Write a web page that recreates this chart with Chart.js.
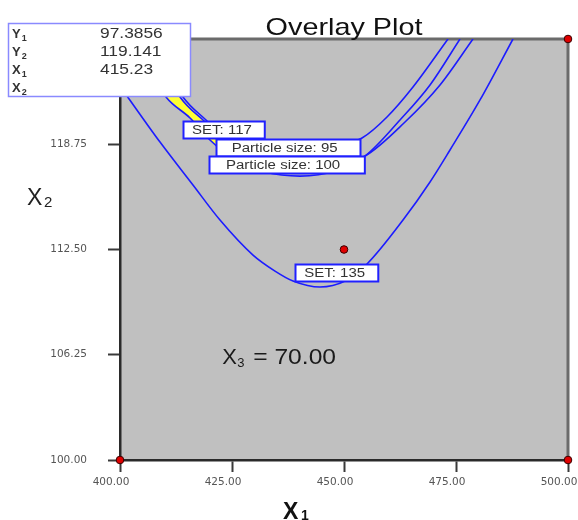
<!DOCTYPE html>
<html>
<head>
<meta charset="utf-8">
<title>Overlay Plot</title>
<script src="https://cdn.jsdelivr.net/npm/chart.js@4/dist/chart.umd.min.js"></script>
<style>
  html, body { margin: 0; padding: 0; background: #fff; }
  #wrap { width: 578px; height: 520px; }
</style>
</head>
<body>
<div id="wrap"><canvas id="c" width="578" height="520"></canvas></div>
<script>
// Axis ticks (X1 = horizontal factor, X2 = vertical factor)
const xTicks = [400, 425, 450, 475, 500];
const yTicks = [100, 106.25, 112.5, 118.75, 125];

// Contour SET = 135
const set135X = [400, 401.56, 408.93, 416.29, 422.32, 429.69, 434.60, 438.62, 444.64, 450.22, 455.13, 463.17, 469.20, 473.66, 480.36, 487.72];
const set135Y = [122.21, 121.62, 118.88, 116.33, 114.25, 112.17, 111.22, 110.63, 110.27, 110.63, 111.64, 114.25, 116.51, 118.41, 121.38, 125];

// Contour SET = 117
const set117X = [408.04, 410.71, 414.06, 419.20, 424.11, 430.80, 439.06, 446.88, 454.69, 463.62, 471.43, 478.79];
const set117Y = [125, 123.16, 121.56, 120.19, 119.00, 117.81, 117.28, 117.46, 118.05, 120.07, 122.27, 125];

// Contour Particle size = 95
const ps95X = [407.37, 410.71, 413.39, 418.53, 423.44, 430.13, 437.95, 445.76, 454.02, 459.60, 465.40, 473.21];
const ps95Y = [125, 122.86, 121.56, 120.19, 119.12, 118.41, 118.23, 118.41, 119.12, 120.37, 122.15, 125];

// Contour Particle size = 100
const ps100X = [403.35, 406.70, 410.27, 415.63, 420.09, 425.67, 432.37, 440.18, 447.99, 454.69, 462.50, 469.20, 475.89];
const ps100Y = [125, 123.16, 121.56, 120.31, 119.00, 117.81, 117.10, 116.86, 117.16, 118.05, 120.19, 122.27, 125];

// Region meeting every criterion (band between the two particle-size contours)
const regionX = [403.35, 406.70, 410.27, 415.63, 420.09, 425.67, 430.13, 423.44, 418.53, 413.39, 410.71, 407.37];
const regionY = [125, 123.16, 121.56, 120.31, 119.00, 117.81, 118.41, 119.12, 120.19, 121.56, 122.86, 125];

// Design points
const designX = [400, 500, 500, 450, 400];
const designY = [100, 100, 125, 112.5, 125];

// Contour labels: text and anchor (left edge, vertical centre) in data units
const labelText = ['SET: 117', 'Particle size: 95', 'Particle size: 100', 'SET: 135'];
const labelX = [414.06, 421.43, 419.87, 439.06];
const labelY = [119.60, 118.56, 117.55, 111.16];

// Flag read-out
const flagNames = [['Y', '1'], ['Y', '2'], ['X', '1'], ['X', '2']];
const flagValues = ['97.3856', '119.141', '415.23', ''];

// Fixed third factor
const x3Value = 70.00;

const toPts = (xs, ys) => xs.map((x, i) => ({ x, y: ys[i] }));

const SANS = '"Liberation Sans", Arial, sans-serif';

function stretchText(ctx, str, x, y, font, sx, align) {
  ctx.save();
  ctx.font = font;
  const w = ctx.measureText(str).width * sx;
  const x0 = align === 'center' ? x - w / 2 : align === 'right' ? x - w : x;
  ctx.translate(x0, y);
  ctx.scale(sx, 1);
  ctx.textAlign = 'left';
  ctx.fillText(str, 0, 0);
  ctx.restore();
  return w;
}

function contour(label, xs, ys) {
  return {
    label,
    data: toPts(xs, ys),
    showLine: true,
    borderColor: '#1c1cff',
    borderWidth: 1.6,
    pointRadius: 0,
    pointHoverRadius: 0,
    cubicInterpolationMode: 'monotone',
    fill: false,
    order: 1
  };
}

const decor = {
  id: 'decor',
  beforeDraw(chart) {
    const { ctx, chartArea: a } = chart;
    ctx.save();
    ctx.fillStyle = '#ffffff';
    ctx.fillRect(0, 0, chart.width, chart.height);
    ctx.fillStyle = '#c0c0c0';
    ctx.fillRect(a.left, a.top, a.right - a.left, a.bottom - a.top);
    ctx.restore();
  },
  beforeDatasetsDraw(chart) {
    // frame along the top and right of the plot
    const { ctx, chartArea: a } = chart;
    ctx.save();
    ctx.strokeStyle = '#6b6b6b';
    ctx.lineWidth = 3;
    ctx.beginPath();
    ctx.moveTo(a.left, a.top);
    ctx.lineTo(a.right, a.top);
    ctx.lineTo(a.right, a.bottom);
    ctx.stroke();
    ctx.restore();
  },
  afterDatasetsDraw(chart) {
    const { ctx, scales: { x, y } } = chart;
    ctx.save();
    // contour labels
    const font = '12.5px ' + SANS;
    const sx = 1.2;
    ctx.font = font;
    labelText.forEach((t, i) => {
      const tw = ctx.measureText(t).width * sx;
      const bw = tw * 1.36;
      const bh = 17;
      const left = Math.round(x.getPixelForValue(labelX[i])) + 0.5;
      const cy = y.getPixelForValue(labelY[i]);
      const top = Math.round(cy - bh / 2) + 0.5;
      ctx.fillStyle = '#ffffff';
      ctx.fillRect(left, top, bw, bh);
      ctx.strokeStyle = '#2020ff';
      ctx.lineWidth = 2;
      ctx.strokeRect(left, top, bw, bh);
      ctx.fillStyle = '#333333';
      ctx.textBaseline = 'middle';
      stretchText(ctx, t, left + (bw - tw) * 0.4, cy + 1, font, sx, 'left');
    });
    ctx.restore();
  },
  afterDraw(chart) {
    const { ctx, chartArea: a, scales: { x, y } } = chart;
    ctx.save();
    ctx.textBaseline = 'alphabetic';

    // title
    ctx.fillStyle = '#111111';
    stretchText(ctx, 'Overlay Plot', (a.left + a.right) / 2, 35, '24px ' + SANS, 1.2, 'center');

    // fixed factor note
    ctx.fillStyle = '#1a1a1a';
    const nx = x.getPixelForValue(422.8);
    const ny = y.getPixelForValue(106.25) + 9;
    ctx.font = '22px ' + SANS;
    ctx.fillText('X', nx, ny);
    ctx.font = '13px ' + SANS;
    ctx.fillText('3', nx + 15, ny + 3);
    stretchText(ctx, '= ' + x3Value.toFixed(2), nx + 31, ny, '22px ' + SANS, 1.12, 'left');

    // axis titles
    ctx.fillStyle = '#111111';
    ctx.font = 'bold 23px ' + SANS;
    ctx.fillText('X', 283, 519);
    ctx.font = 'bold 14px ' + SANS;
    ctx.fillText('1', 301, 520);

    ctx.fillStyle = '#222222';
    ctx.font = '23px ' + SANS;
    ctx.fillText('X', 27, 205);
    ctx.font = '15px ' + SANS;
    ctx.fillText('2', 44, 207);

    // flag read-out box
    ctx.fillStyle = '#ffffff';
    ctx.fillRect(8.5, 23.5, 182, 73);
    ctx.strokeStyle = '#8a8aff';
    ctx.lineWidth = 1.5;
    ctx.strokeRect(8.5, 23.5, 182, 73);
    ctx.fillStyle = '#333333';
    flagNames.forEach((n, i) => {
      const by = 38 + i * 18;
      ctx.font = 'bold 13px ' + SANS;
      ctx.fillText(n[0], 12, by);
      const w = ctx.measureText(n[0]).width;
      ctx.font = 'bold 9px ' + SANS;
      ctx.fillText(n[1], 12 + w + 1, by + 3);
      if (flagValues[i]) {
        stretchText(ctx, flagValues[i], 100, by, '14px ' + SANS, 1.24, 'left');
      }
    });
    ctx.restore();
  }
};

new Chart(document.getElementById('c'), {
  type: 'scatter',
  data: {
    datasets: [
      {
        label: 'Design points',
        data: toPts(designX, designY),
        showLine: false,
        pointRadius: 3.8,
        pointBackgroundColor: '#e00000',
        pointBorderColor: '#3a0000',
        pointBorderWidth: 1,
        clip: false,
        order: 0
      },
      contour('SET: 135', set135X, set135Y),
      contour('SET: 117', set117X, set117Y),
      contour('Particle size: 95', ps95X, ps95Y),
      contour('Particle size: 100', ps100X, ps100Y),
      {
        label: 'Feasible region',
        data: toPts(regionX, regionY),
        showLine: true,
        fill: 'shape',
        backgroundColor: '#ffff33',
        borderColor: 'rgba(0,0,0,0)',
        borderWidth: 0.01,
        pointRadius: 0,
        tension: 0,
        order: 2
      }
    ]
  },
  options: {
    responsive: false,
    animation: false,
    devicePixelRatio: 1,
    layout: { padding: { top: 39, right: 10, left: 0, bottom: 0 } },
    plugins: { legend: { display: false }, tooltip: { enabled: false }, title: { display: false } },
    scales: {
      x: {
        type: 'linear',
        min: 400,
        max: 500,
        afterFit(s) { s.height = 60; s.paddingLeft = 0; s.paddingRight = 0; },
        afterBuildTicks(s) { s.ticks = xTicks.map(v => ({ value: v })); },
        ticks: {
          callback: v => Number(v).toFixed(2),
          font: { family: '"DejaVu Sans"', size: 10.5 },
          color: '#555555',
          padding: 4,
          labelOffset: -9,
          maxRotation: 0,
          autoSkip: false
        },
        grid: { display: true, drawOnChartArea: false, tickLength: 12, tickWidth: 2, tickColor: '#3a3a3a' },
        border: { display: true, color: '#2a2a2a', width: 2.5 }
      },
      y: {
        type: 'linear',
        min: 100,
        max: 125,
        afterFit(s) { s.width = 120; s.paddingTop = 0; s.paddingBottom = 0; },
        afterBuildTicks(s) { s.ticks = yTicks.map(v => ({ value: v })); },
        ticks: {
          callback: v => Number(v).toFixed(2),
          font: { family: '"DejaVu Sans"', size: 10.5 },
          color: '#555555',
          padding: 21,
          autoSkip: false
        },
        grid: { display: true, drawOnChartArea: false, tickLength: 12, tickWidth: 2, tickColor: '#3a3a3a' },
        border: { display: true, color: '#2a2a2a', width: 2.5 }
      }
    }
  },
  plugins: [decor]
});
</script>
</body>
</html>
